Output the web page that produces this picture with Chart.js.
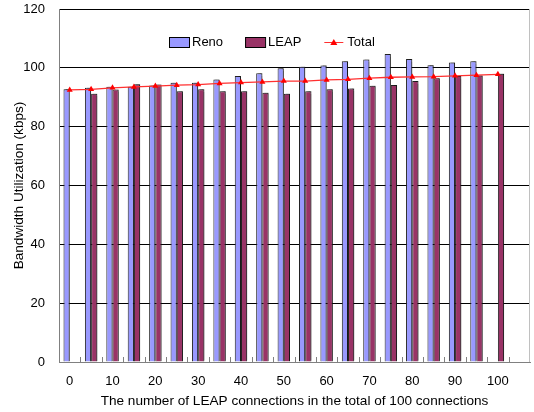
<!DOCTYPE html>
<html>
<head>
<meta charset="utf-8">
<script src="https://cdn.jsdelivr.net/npm/chart.js@4/dist/chart.umd.min.js"></script>
<style>
  body { margin: 0; background: #fff; }
  canvas { display: block; }
</style>
</head>
<body>
<canvas id="grafico" width="534" height="412"></canvas>
<script>
// Datos
const conexiones = ['0', '5', '10', '15', '20', '25', '30', '35', '40', '45', '50',
                    '55', '60', '65', '70', '75', '80', '85', '90', '95', '100', ''];
const reno  = [92.7, 93.2, 93.6, 93.6, 94.0, 94.9, 94.9, 96.0, 97.2, 98.2, 99.9,
               100.4, 100.8, 102.2, 102.8, 104.7, 103.0, 100.9, 101.8, 102.2, null, null];
const leap  = [null, 91.2, 92.6, 94.4, 94.3, 92.0, 92.7, 92.0, 92.0, 91.5, 91.2,
               92.0, 92.7, 93.0, 93.9, 94.2, 95.5, 96.5, 97.2, 97.4, 98.0, null];
const total = [92.5, 92.7, 93.2, 93.5, 93.8, 94.1, 94.3, 94.7, 95.0, 95.2, 95.5,
               95.5, 95.9, 96.1, 96.5, 96.8, 96.9, 97.0, 97.3, 97.5, 97.8, null];
const yTicks = [0, 20, 40, 60, 80, 100, 120];

const FUENTE = 'Liberation Sans';

// Sombra gris de las barras (estilo Excel)
const sombraBarras = {
    id: 'sombraBarras',
    beforeDatasetDraw(chart, args) {
        if (args.meta.type !== 'bar') return;
        const ctx = chart.ctx;
        ctx.save();
        ctx.shadowColor = 'rgba(0,0,0,0.35)';
        ctx.shadowOffsetX = 2;
        ctx.shadowOffsetY = -1;
        ctx.shadowBlur = 1;
    },
    afterDatasetDraw(chart, args) {
        if (args.meta.type !== 'bar') return;
        chart.ctx.restore();
    }
};

// Marco derecho y marcas del eje X hacia dentro
const marco = {
    id: 'marco',
    afterDraw(chart) {
        const { ctx, chartArea: a } = chart;
        ctx.save();
        ctx.strokeStyle = '#c0c0c0';
        ctx.lineWidth = 1;
        ctx.beginPath();
        ctx.moveTo(Math.round(a.right) - 0.5, a.top);
        ctx.lineTo(Math.round(a.right) - 0.5, a.bottom);
        ctx.stroke();
        ctx.strokeStyle = '#808080';
        const n = conexiones.length;
        const paso = (a.right - a.left) / n;
        ctx.beginPath();
        for (let i = 1; i < n; i++) {
            const px = Math.round(a.left + i * paso) + 0.5;
            ctx.moveTo(px, a.bottom);
            ctx.lineTo(px, a.bottom - 5);
        }
        ctx.stroke();
        ctx.restore();
    }
};

// Leyenda dentro del área del gráfico
const leyenda = {
    id: 'leyenda',
    afterDraw(chart) {
        const ctx = chart.ctx;
        const ds = chart.data.datasets;
        const items = [ds[1], ds[2], ds[0]];
        ctx.save();
        ctx.font = '13px ' + FUENTE;
        ctx.textBaseline = 'middle';
        let x = 169;
        const y = 42;
        items.forEach(d => {
            if (d.type === 'line') {
                ctx.strokeStyle = d.borderColor;
                ctx.lineWidth = 1;
                ctx.beginPath();
                ctx.moveTo(x + 1, y + 0.5);
                ctx.lineTo(x + 20, y + 0.5);
                ctx.stroke();
                ctx.fillStyle = d.pointBackgroundColor;
                ctx.beginPath();
                ctx.moveTo(x + 10.5, y - 3);
                ctx.lineTo(x + 14, y + 3);
                ctx.lineTo(x + 7, y + 3);
                ctx.closePath();
                ctx.fill();
                x += 24;
            } else {
                ctx.fillStyle = d.backgroundColor;
                ctx.fillRect(x, y - 5, 20, 10);
                ctx.strokeStyle = '#000';
                ctx.lineWidth = 1;
                ctx.strokeRect(x + 0.5, y - 4.5, 20, 10);
                x += 23;
            }
            ctx.fillStyle = '#000';
            ctx.fillText(d.label, x, y);
            x += ctx.measureText(d.label).width + 22;
        });
        ctx.restore();
    }
};

new Chart(document.getElementById('grafico'), {
    data: {
        labels: conexiones,
        datasets: [
            {
                type: 'line',
                label: 'Total',
                data: total,
                borderColor: '#ff3030',
                borderWidth: 1.3,
                pointStyle: 'triangle',
                pointRadius: 3.5,
                pointBackgroundColor: '#ff0000',
                pointBorderColor: '#ff0000',
                pointBorderWidth: 0,
                tension: 0,
                order: 0
            },
            {
                type: 'bar',
                label: 'Reno',
                data: reno,
                backgroundColor: '#9999ff',
                borderColor: '#222',
                borderWidth: 1,
                categoryPercentage: 0.58,
                barPercentage: 1,
                order: 1
            },
            {
                type: 'bar',
                label: 'LEAP',
                data: leap,
                backgroundColor: '#993366',
                borderColor: '#222',
                borderWidth: 1,
                categoryPercentage: 0.58,
                barPercentage: 1,
                order: 2
            }
        ]
    },
    options: {
        responsive: false,
        animation: false,
        layout: { padding: { top: 9, right: 1, left: 0, bottom: 0 } },
        plugins: {
            legend: { display: false },
            tooltip: { enabled: false }
        },
        scales: {
            x: {
                offset: true,
                grid: { display: true, drawOnChartArea: false, drawTicks: false, color: 'rgba(0,0,0,0)' },
                border: { color: '#808080', width: 1 },
                ticks: {
                    autoSkip: false,
                    maxRotation: 0,
                    padding: 12,
                    color: '#000',
                    font: { family: FUENTE, size: 13 },
                    callback: (v, i) => (i % 2 === 0 ? conexiones[i] : '')
                },
                title: {
                    display: true,
                    text: 'The number of LEAP connections in the total of 100 connections',
                    color: '#000',
                    font: { family: FUENTE, size: 13.6 },
                    padding: { top: 0, bottom: 3 }
                },
                afterFit(scale) {
                    scale.height = 50;
                    scale.paddingLeft = 0;
                    scale.paddingRight = 0;
                }
            },
            y: {
                min: 0,
                max: 120,
                afterBuildTicks(scale) { scale.ticks = yTicks.map(v => ({ value: v })); },
                grid: {
                    drawTicks: false,
                    color: c => (c.tick && c.tick.value === 0 ? 'rgba(0,0,0,0)' : '#000'),
                    lineWidth: 1
                },
                border: { color: '#808080', width: 1 },
                ticks: {
                    padding: 14,
                    color: '#000',
                    font: { family: FUENTE, size: 13 }
                },
                title: {
                    display: true,
                    text: 'Bandwidth Utilization (kbps)',
                    color: '#000',
                    font: { family: FUENTE, size: 13.6 },
                    padding: { top: 11, bottom: 0 }
                },
                afterFit(scale) {
                    scale.width = 59;
                    scale.paddingTop = 0;
                    scale.paddingBottom = 0;
                }
            }
        }
    },
    plugins: [sombraBarras, marco, leyenda]
});
</script>
</body>
</html>
